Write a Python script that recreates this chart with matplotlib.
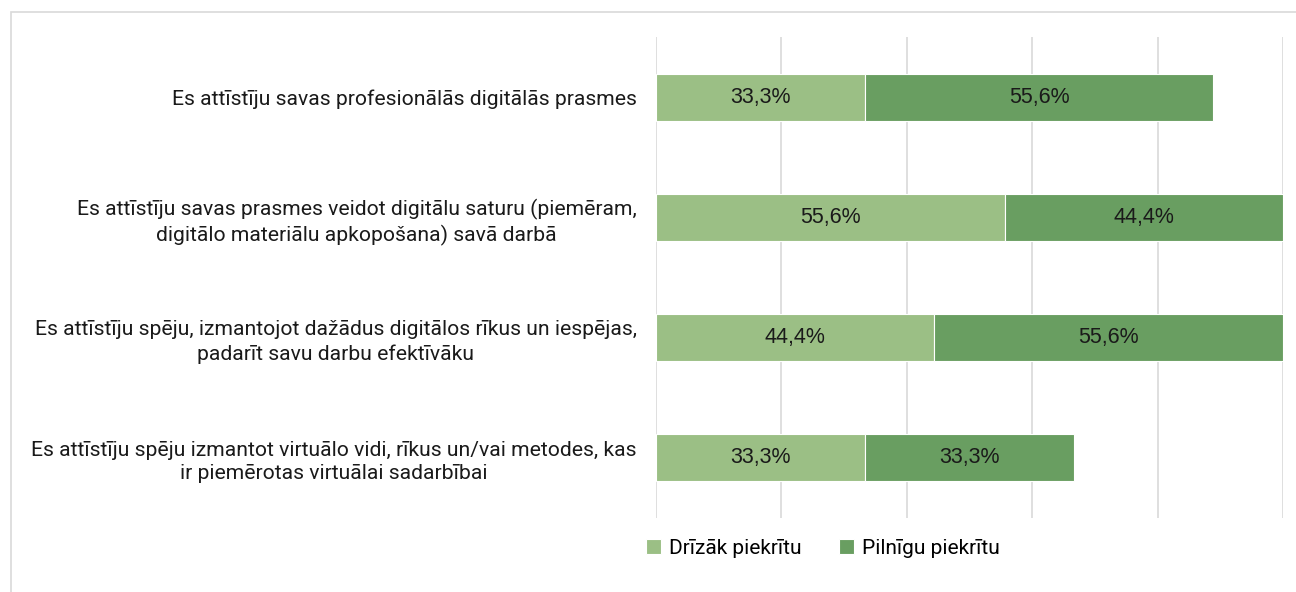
import matplotlib
matplotlib.use("Agg")
import matplotlib.pyplot as plt
from matplotlib.patches import Rectangle

categories = [
    "Es attīstīju savas profesionālās digitālās prasmes",
    "Es attīstīju savas prasmes veidot digitālu saturu (piemēram,\ndigitālo materiālu apkopošana) savā darbā",
    "Es attīstīju spēju, izmantojot dažādus digitālos rīkus un iespējas,\npadarīt savu darbu efektīvāku",
    "Es attīstīju spēju izmantot virtuālo vidi, rīkus un/vai metodes, kas\nir piemērotas virtuālai sadarbībai",
]
series_names = ["Drīzāk piekrītu", "Pilnīgu piekrītu"]
drizak = [33.3, 55.6, 44.4, 33.3]
pilnigu = [55.6, 44.4, 55.6, 33.3]
colors = ["#9BBF85", "#699E61"]

W, H = 1296, 592
fig = plt.figure(figsize=(W / 100, H / 100), dpi=100)
fig.patches.append(Rectangle((11 / W, -0.1), 1.2, 1 - 12 / H + 0.1, transform=fig.transFigure,
                             fill=False, edgecolor="#D9D9D9", linewidth=1.2))

ax = fig.add_axes([656 / W, 1 - 518 / H, (1283 - 656) / W, (518 - 37) / H])
y = list(range(len(categories)))
b1 = ax.barh(y, drizak, height=0.39, color=colors[0], edgecolor="white", linewidth=0.8,
             label=series_names[0], zorder=3)
b2 = ax.barh(y, pilnigu, left=drizak, height=0.39, color=colors[1], edgecolor="white", linewidth=0.8,
             label=series_names[1], zorder=3)
for bars, vals in ((b1, drizak), (b2, pilnigu)):
    for rect, v in zip(bars, vals):
        ax.text(rect.get_x() + rect.get_width() / 2, rect.get_y() + rect.get_height() / 2,
                f"{v:.1f}%".replace(".", ","), ha="center", va="center", fontsize=15.5,
                family="Liberation Sans", color="#1a1a1a", zorder=4)

ax.set_xlim(0, 100)
ax.set_ylim(len(categories) - 0.5, -0.5)
ax.set_xticks([0, 20, 40, 60, 80, 100])
ax.set_xticklabels([])
ax.tick_params(axis="x", length=0)
ax.grid(axis="x", color="#D9D9D9", linewidth=1.2, zorder=0)
ax.set_yticks(y)
ax.set_yticklabels(categories, fontsize=15.2, family="Roboto", color="#1a1a1a",
                   multialignment="center", linespacing=1.3)
ax.tick_params(axis="y", length=0, pad=14)
for s in ax.spines.values():
    s.set_visible(False)

fig.legend(handles=[b1, b2], labels=series_names, loc="center", bbox_to_anchor=(0.635, 1 - 548 / H),
           ncol=2, frameon=False, prop={"family": "Roboto", "size": 15},
           handlelength=0.7, handleheight=0.7, handletextpad=0.4, columnspacing=1.8)

fig.savefig("out.png", dpi=100)
